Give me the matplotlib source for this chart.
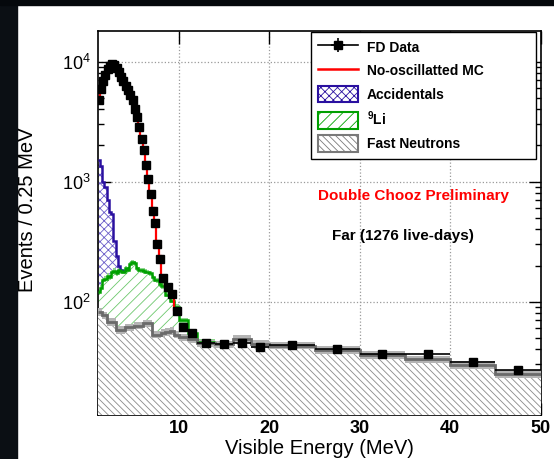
import numpy as np
import matplotlib
matplotlib.use("Agg")
import matplotlib.pyplot as plt
from matplotlib.patches import Patch, Rectangle
from matplotlib.lines import Line2D
from matplotlib.ticker import FixedLocator, FuncFormatter, NullFormatter

plt.rcParams['font.family'] = ['Liberation Sans', 'DejaVu Sans']
plt.rcParams['mathtext.fontset'] = 'custom'
plt.rcParams['mathtext.rm'] = 'Liberation Sans'
plt.rcParams['hatch.linewidth'] = 0.6

# bin edges (MeV): 0.25 up to 8, then coarser
edges = np.concatenate([np.arange(1.0, 8.0, 0.25),
                        [8.0, 8.5, 9.0, 9.5, 10, 11, 12, 14, 16, 18, 20, 25, 30, 35, 40, 45, 50]])

# events / 0.25 MeV
data = [4750, 5900, 6900, 7800, 8600, 9250, 9600, 9400, 8900, 8200, 7500, 6850, 6300, 5800,
        5300, 4750, 4000, 3450, 2850, 2250, 1820, 1380, 1050, 790, 570, 450, 300, 228,
        158, 132, 116, 83,
        62, 55,
        45.5, 44, 45.5, 41.5,
        43.3, 40.4, 36.8, 36.5, 31.3, 27]

mc = [4600, 5950, 7000, 7900, 8700, 9300, 9650, 9450, 8950, 8250, 7500, 6900, 6350, 5850,
      5300, 4700, 4050, 3500, 2900, 2300, 1850, 1420, 1080, 820, 600, 460, 320, 240,
      165, 135, 118, 85]

fast_n = [82, 82, 77, 77, 68, 68, 68, 68, 58, 58, 58, 58, 61, 61,
          61, 61, 63, 63, 63, 63, 66, 66, 66, 66, 53, 53, 53, 53,
          55, 56, 57, 53,
          50.5, 48.5,
          45, 44, 49, 44.5,
          43, 39.6, 36, 33, 29.7, 25]

li9 = [38, 48, 73, 78, 97, 92, 107, 112, 114, 127, 122, 120, 129, 124,
       144, 151, 145, 127, 122, 119, 114, 112, 110, 106, 107, 99, 97, 87,
       80, 58, 45, 38,
       19.5, 6,
       1.5, 1.0, 0.6, 0.5,
       0.3, 0.2, 0.1, 0.1, 0.1, 0.1]

acc = [1380, 1220, 850, 745, 535, 400, 365, 140, 68, 15, 5, 3, 2, 2,
       1, 1, 1, 1, 0.5, 0.5, 0.5, 0.5, 0.5, 0.5, 0.3, 0.3, 0.3, 0.3,
       0.2, 0.2, 0.2, 0.2,
       0.1, 0.1,
       0, 0, 0, 0,
       0, 0, 0, 0, 0, 0]

data = np.array(data)
fast_n = np.array(fast_n)
li_top = fast_n + np.array(li9)
acc_top = li_top + np.array(acc)

centers = 0.5 * (edges[:-1] + edges[1:])
halfw = 0.5 * np.diff(edges)
err = np.sqrt(data * 0.25 / np.diff(edges))

ymin, ymax = 11.4, 18100


def stepy(v):
    return np.append(v, v[-1])


fig = plt.figure(figsize=(5.54, 4.59), dpi=100)
fig.patches.append(Rectangle((0, 0), 16.7 / 554, 1, transform=fig.transFigure,
                             color='#0b0f14', zorder=-10))
fig.patches.append(Rectangle((0, 1 - 5.3 / 459), 1, 5.3 / 459, transform=fig.transFigure,
                             color='#05080c', zorder=-10))

ax = fig.add_axes([97.5 / 554, 1 - 414.8 / 459, (540.6 - 97.5) / 554, (414.8 - 30.7) / 459])
ax.set_yscale('log')
ax.set_xlim(1.0, 50)
ax.set_ylim(ymin, ymax)
ax.set_axisbelow(True)

blue = '#2a10a0'
green = '#00a000'
gray = '#6a6a6a'

# stacked backgrounds
ax.fill_between(edges, ymin, stepy(acc_top), step='post', facecolor='white',
                edgecolor='#6a5cc8', hatch='xxxx', lw=0, zorder=1)
ax.fill_between(edges, ymin, stepy(li_top), step='post', facecolor='white',
                edgecolor='#6cc86c', hatch='///', lw=0, zorder=2)
ax.fill_between(edges[:36], stepy(li_top[:35]) * 0.95, stepy(li_top[:35]) * 1.05, step='post',
                facecolor='#8fd68f', lw=0, zorder=2.5)
ax.fill_between(edges, ymin, stepy(fast_n), step='post', facecolor='white',
                edgecolor='#8a8a8a', hatch='\\\\\\\\\\', lw=0, zorder=3)
ax.fill_between(edges, stepy(fast_n) * 0.93, stepy(fast_n) * 1.07, step='post',
                facecolor='#b4b4b4', lw=0, zorder=3.5)

ax.stairs(acc_top[:12], edges[:13], baseline=None, color=blue, lw=1.8, zorder=4)
ax.stairs(li_top[:35], edges[:36], baseline=None, color=green, lw=1.8, zorder=4.5)
ax.stairs(fast_n, edges, baseline=None, color=gray, lw=2, zorder=5)
ax.stairs(mc, edges[:33], baseline=None, color='red', lw=1.6, zorder=6)

h_data = ax.errorbar(centers, data, xerr=halfw, yerr=err, fmt='s', color='black',
                     ms=5.2, lw=1.2, capsize=0, zorder=7)

# axes styling
ax.set_xticks([10, 20, 30, 40, 50])
ax.set_xticklabels(['10', '20', '30', '40', '50'], fontweight='bold', fontsize=13)
ax.yaxis.set_major_locator(FixedLocator([1e2, 1e3, 1e4]))
ax.yaxis.set_minor_locator(FixedLocator([m * 10 ** e for e in (1, 2, 3, 4) for m in range(2, 10)]))
ax.yaxis.set_major_formatter(FuncFormatter(lambda v, p: r'$\mathregular{10^{%d}}$' % round(np.log10(v))))
ax.yaxis.set_minor_formatter(NullFormatter())
ax.tick_params(axis='y', labelsize=13)
ax.tick_params(which='both', direction='in', top=True, right=True, width=1)
ax.tick_params(which='major', length=9, pad=5)
ax.tick_params(axis='x', pad=4)
ax.tick_params(which='minor', length=4.5)
for s in ax.spines.values():
    s.set_linewidth(1.2)
ax.grid(True, which='major', ls=':', color='#9a9a9a', lw=0.9)

fig.text(319 / 554, 1 - 449 / 459, 'Visible Energy (MeV)', ha='center', va='center', fontsize=14.5)
fig.text(27.5 / 554, 1 - 210 / 459, 'Events / 0.25 MeV', ha='center', va='center',
         rotation=90, fontsize=14.5)

fig.text(413 / 554, 1 - 196 / 459, 'Double Chooz Preliminary', ha='center', va='center',
         color='red', fontweight='bold', fontsize=11)
fig.text(402.5 / 554, 1 - 236 / 459, 'Far (1276 live-days)', ha='center', va='center',
         color='black', fontweight='bold', fontsize=11)

handles = [
    (Line2D([], [], color='black', lw=1.2), h_data),
    Line2D([], [], color='red', lw=1.8),
    Patch(facecolor='white', edgecolor=blue, hatch='xxxx', lw=1.5),
    Patch(facecolor='white', edgecolor=green, hatch='///', lw=1.5),
    Patch(facecolor='white', edgecolor='#7a7a7a', hatch='\\\\\\\\\\', lw=1.5),
]
labels = ['FD Data', 'No-oscillatted MC', 'Accidentals', r'$\mathregular{^{9}}$Li', 'Fast Neutrons']
leg = ax.legend(handles, labels, loc='upper left', mode='expand',
                bbox_to_anchor=(311 / 554, 1 - 172 / 459, 225 / 554, 140 / 459),
                bbox_transform=fig.transFigure, borderaxespad=0,
                prop={'weight': 'bold', 'size': 10}, handlelength=2.9, handleheight=1.45,
                labelspacing=0.5, handletextpad=0.6, borderpad=0.5,
                fancybox=False, framealpha=1, edgecolor='black')
leg.get_frame().set_linewidth(1.0)
leg.set_zorder(10)

fig.savefig('out.png', dpi=100)
